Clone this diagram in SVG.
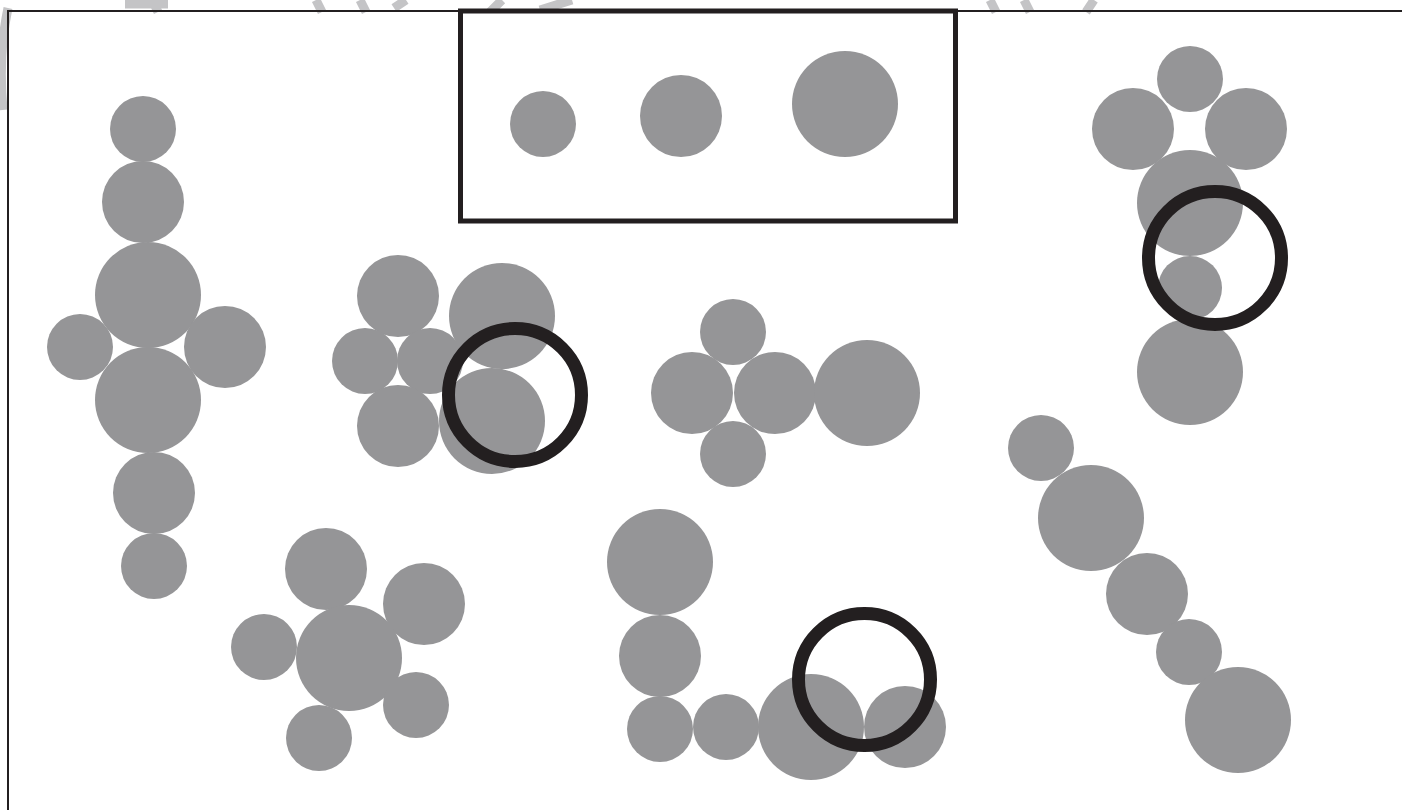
<svg xmlns="http://www.w3.org/2000/svg" width="1402" height="810" viewBox="0 0 1402 810">
<style>
.c{fill:#959597}
.r{fill:none;stroke:#231f20;stroke-width:13}
.wm{fill:none;stroke:#c4c4c6;stroke-width:9;stroke-linecap:butt}
.fr{fill:none;stroke:#231f20;stroke-width:2}
</style>
<rect width="1402" height="810" fill="#fff"/>
<g id="watermark">
<path class="wm" d="M8,8 Q-2,55 3,110"/>
<path class="wm" d="M125,4 L168,4 M152,0 L158,12"/>
<path class="wm" d="M316,0 L322,12 M360,0 L366,12 M406,0 L394,8"/>
<path class="wm" d="M502,0 L490,12 M572,0 L540,10"/>
<path class="wm" d="M990,0 L996,12 M1024,0 L1030,12 M1094,0 L1086,12"/>
</g>
<g id="frame">
<path class="fr" d="M8,810 L8,11 L1402,11"/>
</g>
<g id="legend">
<rect x="460.5" y="11" width="495" height="210" fill="#fff" stroke="#231f20" stroke-width="5"/>
<circle class="c" cx="543" cy="124" r="33"/>
<circle class="c" cx="681" cy="116" r="41"/>
<circle class="c" cx="845" cy="104" r="53"/>
</g>
<g id="group-cross">
<circle class="c" cx="143" cy="129" r="33"/>
<circle class="c" cx="143" cy="202" r="41"/>
<circle class="c" cx="148" cy="295" r="53"/>
<circle class="c" cx="80" cy="347" r="33"/>
<circle class="c" cx="225" cy="347" r="41"/>
<circle class="c" cx="148" cy="400" r="53"/>
<circle class="c" cx="154" cy="493" r="41"/>
<circle class="c" cx="154" cy="566" r="33"/>
</g>
<g id="group-ring-left">
<circle class="c" cx="398" cy="296" r="41"/>
<circle class="c" cx="502" cy="316" r="53"/>
<circle class="c" cx="365" cy="361" r="33"/>
<circle class="c" cx="430" cy="361" r="33"/>
<circle class="c" cx="398" cy="426" r="41"/>
<circle class="c" cx="492" cy="421" r="53"/>
<circle class="r" cx="515" cy="395" r="66.5"/>
</g>
<g id="group-center">
<circle class="c" cx="733" cy="332" r="33"/>
<circle class="c" cx="692" cy="393" r="41"/>
<circle class="c" cx="775" cy="393" r="41"/>
<circle class="c" cx="733" cy="454" r="33"/>
<circle class="c" cx="867" cy="393" r="53"/>
</g>
<g id="group-top-right">
<circle class="c" cx="1190" cy="79" r="33"/>
<circle class="c" cx="1133" cy="129" r="41"/>
<circle class="c" cx="1246" cy="129" r="41"/>
<circle class="c" cx="1190" cy="203" r="53"/>
<circle class="c" cx="1190" cy="288" r="32"/>
<circle class="c" cx="1190" cy="372" r="53"/>
<circle class="r" cx="1215" cy="258" r="66.5"/>
</g>
<g id="group-diagonal">
<circle class="c" cx="1041" cy="448" r="33"/>
<circle class="c" cx="1091" cy="518" r="53"/>
<circle class="c" cx="1147" cy="594" r="41"/>
<circle class="c" cx="1189" cy="652" r="33"/>
<circle class="c" cx="1238" cy="720" r="53"/>
</g>
<g id="group-bottom-left">
<circle class="c" cx="326" cy="569" r="41"/>
<circle class="c" cx="424" cy="604" r="41"/>
<circle class="c" cx="264" cy="647" r="33"/>
<circle class="c" cx="349" cy="658" r="53"/>
<circle class="c" cx="416" cy="705" r="33"/>
<circle class="c" cx="319" cy="738" r="33"/>
</g>
<g id="group-bottom-center">
<circle class="c" cx="660" cy="562" r="53"/>
<circle class="c" cx="660" cy="656" r="41"/>
<circle class="c" cx="660" cy="729" r="33"/>
<circle class="c" cx="726" cy="727" r="33"/>
<circle class="c" cx="811" cy="727" r="53"/>
<circle class="c" cx="905" cy="727" r="41"/>
<circle class="r" cx="864.5" cy="679.5" r="66"/>
</g>
<g id="connectors"></g>
</svg>
